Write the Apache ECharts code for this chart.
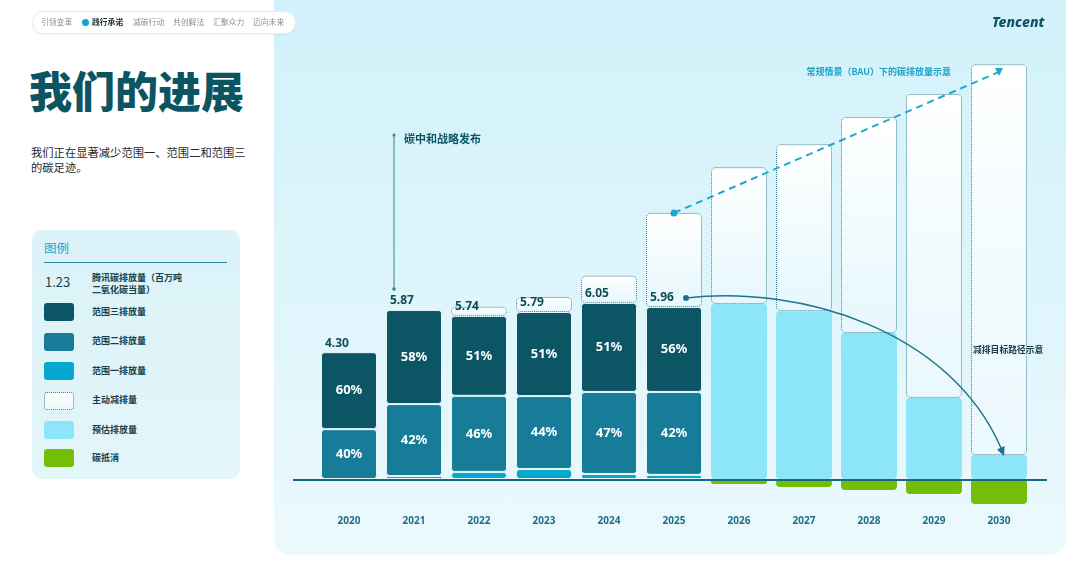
<!DOCTYPE html>
<html><head><meta charset="utf-8">
<script src="https://cdn.jsdelivr.net/npm/echarts@6.0.0/dist/echarts.min.js"></script>
<style>
html,body{margin:0;padding:0;width:1080px;height:573px;overflow:hidden;background:#fff;font-family:"Noto Sans CJK SC","Noto Sans",sans-serif;}
#panel{position:absolute;left:274px;top:-20px;width:792px;height:575px;border-radius:16px;background:linear-gradient(180deg,#d1f1fa 0%,#def5fb 55%,#ecf9fd 100%);}
#chart{position:absolute;left:0;top:0;width:1080px;height:573px;}
.abs{position:absolute;white-space:nowrap;}
#nav{position:absolute;left:32px;top:11px;width:262px;height:21px;border-radius:11px;background:#fff;border:1px solid #e6ecee;box-shadow:0 1px 2px rgba(0,0,0,0.05);z-index:5;}
.nav{position:absolute;top:17px;font-size:7.8px;line-height:10px;color:#8b9094;z-index:6;}
#title{left:29px;top:66px;font-size:43px;line-height:46px;font-weight:900;color:#0c5462;letter-spacing:0px;}
#sub{left:31px;top:145px;font-size:11.3px;line-height:15px;color:#1d2a2e;}
#legend{position:absolute;left:32px;top:230px;width:208px;height:249px;border-radius:10px;background:linear-gradient(180deg,#daf2f8,#e3f6fa);}
.lg{position:absolute;left:92px;font-size:9px;line-height:12px;font-weight:700;color:#17404a;white-space:nowrap;}
.sw{position:absolute;left:44px;width:30px;height:18px;border-radius:3px;}
</style></head>
<body>
<div id="panel"></div>
<div id="nav"></div>
<span class="nav" style="left:41px">引领变革</span>
<div class="abs" style="left:82px;top:19px;width:7px;height:7px;border-radius:50%;background:#0fa7cf;z-index:6;"></div>
<span class="nav" style="left:92px;color:#1c2b30;font-weight:700">践行承诺</span>
<span class="nav" style="left:133px">减碳行动</span>
<span class="nav" style="left:173px">共创解法</span>
<span class="nav" style="left:213px">汇聚众力</span>
<span class="nav" style="left:253px">迈向未来</span>
<div id="title" class="abs">我们的进展</div>
<div id="sub" class="abs">我们正在显著减少范围一、范围二和范围三<br>的碳足迹。</div>
<div id="legend"></div>
<div class="abs" style="left:44px;top:240px;font-size:12.5px;line-height:16px;color:#1aa6cc;">图例</div>
<div class="abs" style="left:44px;top:262px;width:183px;height:1px;background:#2a8aa0;"></div>
<div class="abs" style="left:45px;top:274px;font-size:13px;line-height:16px;color:#17404a;">1.23</div>
<div class="lg" style="top:272px;">腾讯碳排放量（百万吨<br>二氧化碳当量）</div>
<div class="sw" style="top:303px;background:#0b5565;"></div><div class="lg" style="top:306px;">范围三排放量</div>
<div class="sw" style="top:333px;background:#177c97;"></div><div class="lg" style="top:335px;">范围二排放量</div>
<div class="sw" style="top:362px;background:#07a8cf;"></div><div class="lg" style="top:365px;">范围一排放量</div>
<div class="sw" style="top:392px;width:28px;height:16px;background:linear-gradient(180deg,#fff,#eef9fc);border:1px dotted #3f7f8f;"></div><div class="lg" style="top:394px;">主动减排量</div>
<div class="sw" style="top:421px;background:#8de6f8;"></div><div class="lg" style="top:424px;">预估排放量</div>
<div class="sw" style="top:449px;background:#74be06;"></div><div class="lg" style="top:452px;">碳抵消</div>
<div id="chart"></div>
<script>
const years = ['2020','2021','2022','2023','2024','2025','2026','2027','2028','2029','2030'];
const scope1 = [0, 0.10, 0.24, 0.34, 0.17, 0.14, '-', '-', '-', '-', '-'];
const scope2 = [1.69, 2.44, 2.58, 2.47, 2.78, 2.81, '-', '-', '-', '-', '-'];
const scope3 = [2.61, 3.19, 2.71, 2.85, 3.02, 2.88, '-', '-', '-', '-', '-'];
const estimated = ['-', '-', '-', '-', '-', '-', 5.93, 5.69, 4.95, 2.75, 0.81];
const totalAnchor = [0, 0, 0, 0, 0, 0, '-', '-', '-', '-', '-'];
const reduction = ['-', '-', 0.31, 0.51, 0.92, 3.19, 4.64, 5.66, 7.32, 10.3, 13.25];
const offsets = ['-', '-', '-', '-', '-', '-', -0.17, -0.27, -0.37, -0.51, -0.85];
const totals = ['4.30', '5.87', '5.74', '5.79', '6.05', '5.96'];
const pctScope3 = ['60%', '58%', '51%', '51%', '51%', '56%'];
const pctScope2 = ['40%', '42%', '46%', '44%', '47%', '42%'];
const bauStart = 9.02, bauEnd = 13.8;

const chart = echarts.init(document.getElementById('chart'), null, {renderer:'canvas'});
const gapBorder = {borderColor:'#e6f7fb', borderWidth:1, borderRadius:3};
const pctLabel = (arr) => ({show:true, position:'inside', color:'#ffffff', fontSize:13, fontWeight:'bold',
  fontFamily:'Noto Sans', formatter: p => arr[p.dataIndex] || ''});
const bauData = years.map((y,i) => i === 5 ? {value:bauStart, symbol:'circle', symbolSize:7}
  : (i === 10 ? {value:bauEnd, symbol:'triangle', symbolSize:8, symbolRotate:180} : '-'));

chart.setOption({
  animation:false,
  grid:{left:316.5, width:715, top:7, height:501.5},
  xAxis:{type:'category', data:years, axisLine:{show:false, onZero:false}, axisTick:{show:false},
    axisLabel:{color:'#1f6f87', fontWeight:'bold', fontSize:10, margin:8, fontFamily:'Noto Sans'}, splitLine:{show:false}},
  yAxis:{type:'value', min:-1, max:16, show:false},
  series:[
    {name:'范围一排放量', type:'bar', stack:'e', barWidth:56, data:scope1, itemStyle:Object.assign({color:'#07a8cf'}, gapBorder)},
    {name:'范围二排放量', type:'bar', stack:'e', barWidth:56, data:scope2, itemStyle:Object.assign({color:'#177c97'}, gapBorder), label:pctLabel(pctScope2)},
    {name:'范围三排放量', type:'bar', stack:'e', barWidth:56, data:scope3, itemStyle:Object.assign({color:'#0b5565'}, gapBorder), label:pctLabel(pctScope3)},
    {name:'预估排放量', type:'bar', stack:'e', barWidth:56, data:estimated, itemStyle:{color:'#8de6f8', borderRadius:4}},
    {name:'total', type:'bar', stack:'e', barWidth:56, data:totalAnchor, itemStyle:{color:'rgba(0,0,0,0)'}, z:5,
      label:{show:true, position:[4,-15], color:'#0e4c59', fontSize:12, fontWeight:'bold', fontFamily:'Noto Sans',
        formatter:p => totals[p.dataIndex] || ''}},
    {name:'主动减排量', type:'bar', stack:'e', barWidth:56, data:reduction, z:1,
      itemStyle:{color:new echarts.graphic.LinearGradient(0,0,0,1,[{offset:0,color:'#ffffff'},{offset:1,color:'rgba(255,255,255,0.25)'}]),
        borderColor:'#417f8e', borderType:'dotted', borderWidth:1, borderRadius:4}},
    {name:'碳抵消', type:'bar', stack:'e', barWidth:56, data:offsets, itemStyle:{color:'#74be06', borderRadius:4}},
    {name:'BAU', type:'line', data:bauData, connectNulls:true, z:10,
      lineStyle:{color:'#1ea8cf', width:2, type:[7,5]}, itemStyle:{color:'#1ea8cf'}}
  ],
  graphic:[
    {type:'rect', shape:{x:293, y:479, width:754, height:2}, style:{fill:'#17697f'}, z:100},
    {type:'line', shape:{x1:394, y1:135, x2:394, y2:289}, style:{stroke:'#2b8398', lineWidth:1}, z:100},
    {type:'circle', shape:{cx:394, cy:135, r:1.5}, style:{fill:'#2b8398'}, z:100},
    {type:'circle', shape:{cx:394, cy:289, r:1.8}, style:{fill:'#2b8398'}, z:100},
    {type:'text', x:404, y:139, style:{text:'碳中和战略发布', fill:'#0e5563', font:'bold 11px "Noto Sans CJK SC"', verticalAlign:'middle'}, z:100},
    {type:'text', x:951, y:72, style:{text:'常规情景（BAU）下的碳排放量示意', fill:'#19a3c8', font:'bold 9px "Noto Sans CJK SC"', align:'right', verticalAlign:'middle'}, z:100},
    {type:'bezierCurve', shape:{x1:686, y1:298, cpx1:800, cpy1:285, cpx2:950, cpy2:330, x2:1001, y2:448}, style:{stroke:'#1d7490', lineWidth:1.5, fill:null}, z:100},
    {type:'circle', shape:{cx:686, cy:298, r:3}, style:{fill:'#1d7490'}, z:100},
    {type:'polygon', shape:{points:[[1004,456],[1004.6,446],[997,449.4]]}, style:{fill:'#1d7490'}, z:100},
    {type:'text', x:973, y:350, style:{text:'减排目标路径示意', fill:'#1b3d47', font:'bold 8.8px "Noto Sans CJK SC"', verticalAlign:'middle'}, z:100},
    {type:'text', x:992, y:23, style:{text:'Tencent', fill:'#0c5462', font:'italic 800 14px "Noto Sans"', verticalAlign:'middle'}, z:100}
  ]
});
</script>
</body></html>
